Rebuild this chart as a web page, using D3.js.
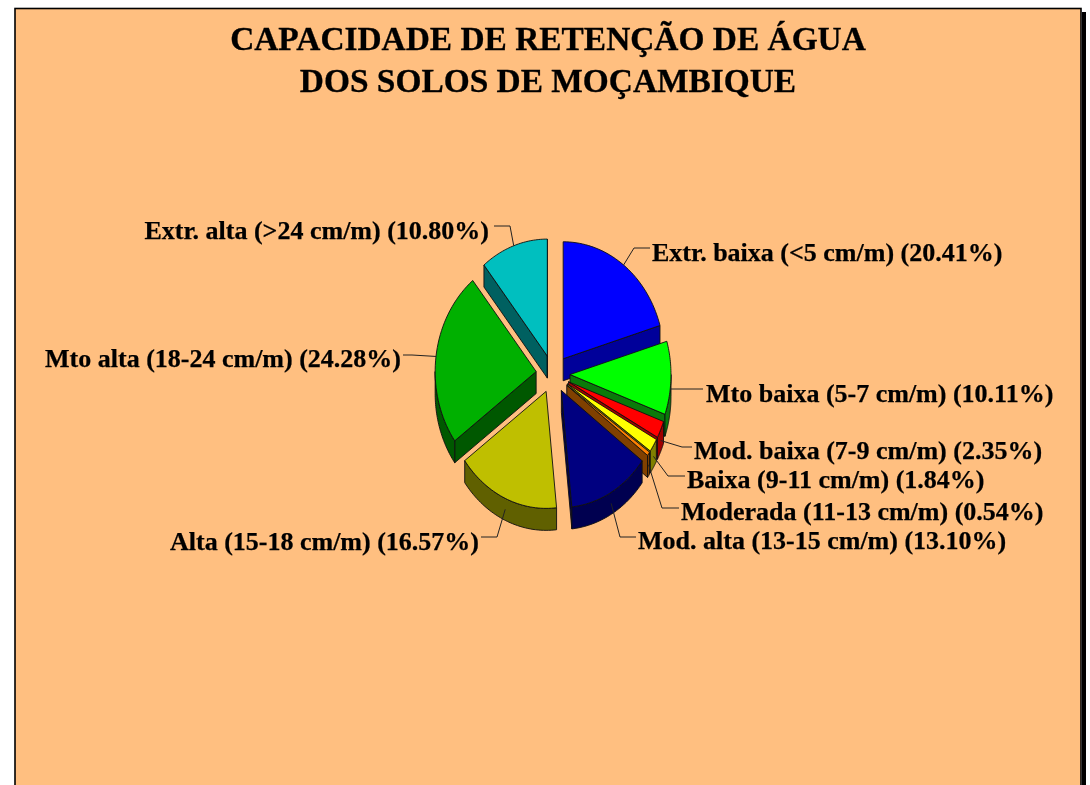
<!DOCTYPE html>
<html><head><meta charset="utf-8">
<script src="https://cdnjs.cloudflare.com/ajax/libs/d3/7.8.5/d3.min.js"></script>
<style>html,body{margin:0;padding:0;background:#fff;overflow:hidden}svg{display:block;filter:blur(0.35px)}</style>
</head><body><svg id="c" width="1090" height="785"></svg>
<script>
const titleLines = ["CAPACIDADE DE RETENÇÃO DE ÁGUA", "DOS SOLOS DE MOÇAMBIQUE"];
const categories = ["Extr. baixa (<5 cm/m)", "Mto baixa (5-7 cm/m)", "Mod. baixa (7-9 cm/m)", "Baixa (9-11 cm/m)", "Moderada (11-13 cm/m)", "Mod. alta (13-15 cm/m)", "Alta (15-18 cm/m)", "Mto alta (18-24 cm/m)", "Extr. alta (>24 cm/m)"];
const values = [20.41, 10.11, 2.35, 1.84, 0.54, 13.10, 16.57, 24.28, 10.80];
const topColors = ["#0000ff", "#00ff00", "#ff0000", "#ffff00", "#ff8000", "#000080", "#bfbf00", "#00b000", "#00bfbf"];
const wallColors = ["#00009a", "#0a7a0a", "#a00000", "#808000", "#804000", "#000050", "#606000", "#005800", "#006060"];
const labelAnchors = [[652, 261, "start"], [706, 402, "start"], [694, 459, "start"], [687, 488, "start"], [681, 520, "start"], [638, 549, "start"], [479, 550, "end"], [401, 367, "end"], [489, 239, "end"]];
const leaderBends = [[[634, 248], [650, 248]], [[670, 389], [703, 389]], [[682, 447], [692, 447]], [[668, 476], [685, 476]], [[662, 508], [679, 508]], [[620, 537], [636, 537]], [[497, 537], [481, 537]], [[412, 355], [403, 355]], [[510, 226], [494, 226]]];

const W = 1090, H = 785;
const cx = 553, cy = 374, rx = 101, ry = 117, explodeX = 17, explodeY = 19, depth = 22;
const svg = d3.select("#c");
svg.append("rect").attr("x", 1082).attr("y", 12).attr("width", 4).attr("height", H).attr("fill", "#000");
svg.append("rect").attr("x", 15).attr("y", 8.5).attr("width", 1066).attr("height", H).attr("fill", "#ffbf80").attr("stroke", "#000").attr("stroke-width", 1.6);

svg.selectAll("text.title").data(titleLines).join("text").attr("class", "title")
  .attr("x", 548).attr("y", (d, i) => 50 + i * 42).attr("text-anchor", "middle")
  .attr("font-family", "Liberation Serif").attr("font-weight", "bold").attr("font-size", 33.4).attr("fill", "#000")
  .attr("stroke", "#000").attr("stroke-width", 0.3).text(d => d);

const arcs = d3.pie().sort(null).startAngle(0).endAngle(2 * Math.PI)(values);
const X = d3.scaleLinear().domain([-1, 1]).range([-rx, rx]);
const Y = d3.scaleLinear().domain([-1, 1]).range([-ry, ry]);
const line = d3.line();
const stroke = "#101010";

arcs.forEach((a, i) => {
  const mid = (a.startAngle + a.endAngle) / 2;
  const ax = cx + explodeX * Math.sin(mid), ay = cy - explodeY * Math.cos(mid);
  const pt = t => [ax + X(Math.sin(t)), ay + Y(-Math.cos(t))];
  const arcPts = (s, e) => d3.range(0, 41).map(k => pt(s + (e - s) * k / 40));
  const down = p => [p[0], p[1] + depth];
  const g = svg.append("g");
  const wall = pts => g.append("path").attr("d", line(pts) + "Z").attr("fill", wallColors[i]).attr("stroke", stroke).attr("stroke-width", 0.9);
  const apex = [ax, ay], s = pt(a.startAngle), e = pt(a.endAngle);
  if (s[0] < ax) wall([apex, s, down(s), down(apex)]);
  if (e[0] > ax) wall([e, apex, down(apex), down(e)]);
  const lo = Math.max(a.startAngle, Math.PI / 2), hi = Math.min(a.endAngle, 3 * Math.PI / 2);
  if (hi > lo) { const p = arcPts(lo, hi); wall(p.concat(p.map(down).reverse())); }
  g.append("path").attr("d", line([apex].concat(arcPts(a.startAngle, a.endAngle))) + "Z")
    .attr("fill", topColors[i]).attr("stroke", stroke).attr("stroke-width", 0.9).attr("stroke-linejoin", "round");
});

svg.selectAll("path.leader").data(leaderBends).join("path").attr("class", "leader")
  .attr("d", (d, i) => {
    const a = arcs[i], mid = (a.startAngle + a.endAngle) / 2;
    const ax = cx + explodeX * Math.sin(mid), ay = cy - explodeY * Math.cos(mid);
    const wallDrop = Math.cos(mid) < 0 ? depth * 0.5 : 0;
    return line([[ax + X(Math.sin(mid)), ay + Y(-Math.cos(mid)) + wallDrop], d[0], d[1]]);
  })
  .attr("fill", "none").attr("stroke", "#222").attr("stroke-width", 1);

svg.selectAll("text.lab").data(categories).join("text").attr("class", "lab")
  .attr("x", (d, i) => labelAnchors[i][0]).attr("y", (d, i) => labelAnchors[i][1])
  .attr("text-anchor", (d, i) => labelAnchors[i][2])
  .attr("font-family", "Liberation Serif").attr("font-weight", "bold").attr("font-size", 26).attr("fill", "#000")
  .attr("stroke", "#000").attr("stroke-width", 0.25)
  .text((d, i) => `${d} (${values[i].toFixed(2)}%)`);
</script></body></html>
